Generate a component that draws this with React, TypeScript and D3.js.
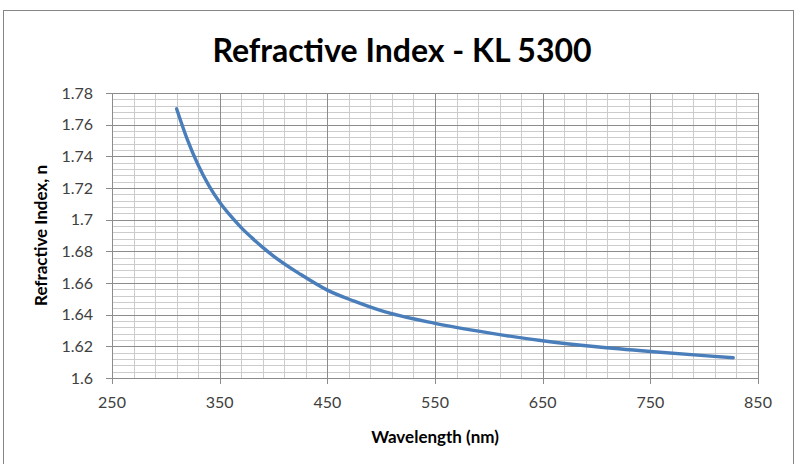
import React from "react";
import * as d3 from "d3";

const wavelengths = [310, 320, 330, 340, 350, 360, 370, 380, 390, 400, 425, 450, 475, 500, 550, 600, 650, 700, 750, 800, 827];
const refractiveIndex = [1.770, 1.7505, 1.7345, 1.7215, 1.711, 1.7025, 1.695, 1.6885, 1.6825, 1.677, 1.6655, 1.6555, 1.6485, 1.6425, 1.6345, 1.6285, 1.6235, 1.6197, 1.6167, 1.6141, 1.6128];
const xTicks = [250, 350, 450, 550, 650, 750, 850];
const yTicks = [1.6, 1.62, 1.64, 1.66, 1.68, 1.7, 1.72, 1.74, 1.76, 1.78];
const title = "Refractive Index - KL 5300";
const xTitle = "Wavelength (nm)";
const yTitle = "Refractive Index, n";

export default function App() {
  const W = 799, H = 464;
  const left = 112, right = 758, top = 93, bottom = 378;
  const x = d3.scaleLinear().domain([250, 850]).range([left, right]);
  const y = d3.scaleLinear().domain([1.6, 1.78]).range([bottom, top]);
  const xMinor = d3.range(250, 850.001, 20);
  const yMinor = d3.range(0, 45.5, 1).map((i) => 1.6 + i * 0.004);
  const line = d3
    .line<number>()
    .x((_, i) => x(wavelengths[i]))
    .y((d) => y(d))
    .curve(d3.curveMonotoneX);
  const font = "Lato, 'Open Sans', sans-serif";
  const snap = (v: number) => Math.round(v) + 0.5;
  return (
    <svg width={W} height={H} style={{ position: "absolute", left: 0, top: 0, background: "#fff" }}>
      <rect x={3.5} y={10.5} width={790} height={470} fill="#fff" stroke="#868686" strokeWidth={1} />
      <text x={402} y={62} textAnchor="middle" fontFamily={font} fontWeight="bold" fontSize={32} fill="#000">
        {title}
      </text>
      {yMinor.map((v, i) => (
        <line key={"ym" + i} x1={left} x2={right} y1={snap(y(v))} y2={snap(y(v))} stroke="#cccccc" strokeWidth={1} />
      ))}
      {xMinor.map((v, i) => (
        <line key={"xm" + i} x1={snap(x(v))} x2={snap(x(v))} y1={top} y2={bottom} stroke="#cccccc" strokeWidth={1} />
      ))}
      {yTicks.map((v, i) => (
        <line key={"yM" + i} x1={left - 6} x2={right} y1={snap(y(v))} y2={snap(y(v))} stroke="#8c8c8c" strokeWidth={1} />
      ))}
      {xTicks.map((v, i) => (
        <line key={"xM" + i} x1={snap(x(v))} x2={snap(x(v))} y1={top} y2={bottom + 6} stroke="#8c8c8c" strokeWidth={1} />
      ))}
      {yTicks.map((v, i) => (
        <text key={"yl" + i} x={left - 19} y={y(v) + 5.5} textAnchor="end" fontFamily={font} fontSize={16} fill="#404040">
          {String(+v.toFixed(2))}
        </text>
      ))}
      {xTicks.map((v, i) => (
        <text key={"xl" + i} x={x(v)} y={bottom + 30} textAnchor="middle" fontFamily={font} fontSize={16} fill="#404040">
          {String(v)}
        </text>
      ))}
      <path d={line(refractiveIndex) || ""} fill="none" stroke="#4a7ebb" strokeWidth={3.4} strokeLinecap="round" />
      <text x={435} y={443} textAnchor="middle" fontFamily={font} fontWeight="bold" fontSize={17} fill="#000">
        {xTitle}
      </text>
      <text transform={`translate(47,${(top + bottom) / 2}) rotate(-90)`} textAnchor="middle" fontFamily={font} fontWeight="bold" fontSize={17} fill="#000">
        {yTitle}
      </text>
    </svg>
  );
}
